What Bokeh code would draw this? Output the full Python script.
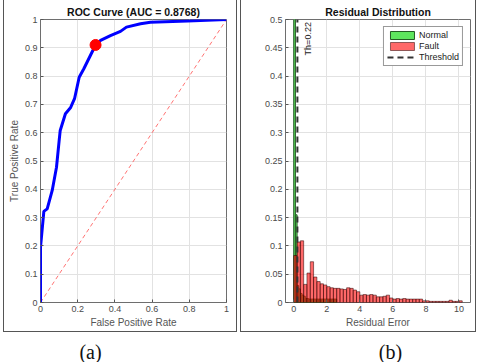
import math
from bokeh.plotting import figure
from bokeh.layouts import row, column
from bokeh.models import (FixedTicker, Range1d, Legend, LegendItem, Label, Spacer)
from bokeh.core.properties import value
from bokeh.embed import file_html
from bokeh.resources import INLINE

# ---------------- data ----------------
roc_fpr = [0.0, 0.0, 0.018, 0.036, 0.063, 0.086, 0.100, 0.106, 0.134, 0.161, 0.183,
           0.208, 0.233, 0.296, 0.323, 0.376, 0.430, 0.462, 0.538, 0.591, 0.790, 1.0]
roc_tpr = [0.0, 0.195, 0.322, 0.331, 0.396, 0.478, 0.570, 0.608, 0.667, 0.688, 0.720,
           0.796, 0.826, 0.910, 0.926, 0.943, 0.958, 0.973, 0.985, 0.990, 0.995, 1.0]
auc = 0.8768
opt_fpr = [0.296]
opt_tpr = [0.910]
chance = [0.0, 1.0]

threshold = 0.22
fault_bin_width = 0.2
fault_probs = [0.083, 0.107, 0.109, 0.032, 0.052, 0.072, 0.045, 0.037, 0.033, 0.031,
               0.028, 0.026, 0.025, 0.025, 0.024, 0.023, 0.026, 0.025, 0.022, 0.019,
               0.013, 0.014, 0.013, 0.014, 0.013, 0.010, 0.010, 0.011, 0.013, 0.008,
               0.006, 0.007, 0.006, 0.007, 0.006, 0.006, 0.006, 0.006, 0.006, 0.003,
               0.003, 0.002, 0.002, 0.002, 0.002, 0.002, 0.002, 0.004, 0.002, 0.002,
               0.003]
normal_bin_width = 0.1
normal_probs = [0.62, 0.155, 0.030, 0.024, 0.016, 0.013, 0.011, 0.007, 0.007, 0.006,
                0.006, 0.006, 0.006, 0.006, 0.006, 0.006, 0.006, 0.006, 0.006, 0.006,
                0.006, 0.006, 0.006, 0.006, 0.006, 0.006]

roc_xticks = [0, 0.2, 0.4, 0.6, 0.8, 1]
roc_yticks = [0, 0.1, 0.2, 0.3, 0.4, 0.5, 0.6, 0.7, 0.8, 0.9, 1]
res_xticks = [0, 2, 4, 6, 8, 10]
res_yticks = [0, 0.05, 0.1, 0.15, 0.2, 0.25, 0.3, 0.35, 0.4, 0.45, 0.5]
res_ymax = 0.5

captions = ["(a)", "(b)"]

FONT = "Liberation Sans"
TICK_C = "#4a4a4a"
PANEL_CSS = {"box-shadow": "inset 1px 0 0 0 #555555, inset -1px 0 0 0 #555555, "
                           "inset 0 -1px 0 0 #555555"}


def fmt(v):
    return ("%g" % v)


def style(p, xticks, yticks):
    p.outline_line_color = "#6e6e6e"
    p.outline_line_width = 1
    p.background_fill_color = "white"
    p.border_fill_color = None
    for ax, ticks in ((p.xaxis[0], xticks), (p.yaxis[0], yticks)):
        ax.ticker = FixedTicker(ticks=ticks)
        ax.major_label_overrides = {t: fmt(t) for t in ticks}
        ax.major_label_text_font = FONT
        ax.major_label_text_font_size = "9px"
        ax.major_label_text_color = TICK_C
        ax.axis_label_text_font = FONT
        ax.axis_label_text_font_size = "10px"
        ax.axis_label_text_font_style = "normal"
        ax.axis_label_text_color = "#555555"
        ax.axis_line_color = None
        ax.major_tick_in = 3
        ax.major_tick_out = 0
        ax.major_tick_line_color = "#555555"
        ax.minor_tick_line_color = None
        ax.major_label_standoff = 3
        ax.axis_label_standoff = 2
    p.xgrid.ticker = FixedTicker(ticks=xticks)
    p.ygrid.ticker = FixedTicker(ticks=yticks)
    p.grid.grid_line_color = "#e2e2e2"
    p.grid.grid_line_width = 1
    p.title.text_font = FONT
    p.title.text_font_size = "10.5px"
    p.title.text_font_style = "bold"
    p.title.text_color = "#111111"
    p.title.align = "center"
    p.title.standoff = 3
    p.title.offset = 0
    p.styles = PANEL_CSS


# ---------------- (a) ROC ----------------
pa = figure(width=234, height=332, output_backend="svg", toolbar_location=None,
            x_range=Range1d(0, 1), y_range=Range1d(0, 1),
            title="ROC Curve (AUC = %.4f)" % auc,
            x_axis_label="False Positive Rate", y_axis_label="True Positive Rate",
            min_border_left=37, min_border_right=11, min_border_top=19, min_border_bottom=30)
style(pa, roc_xticks, roc_yticks)
pa.line(chance, chance, line_color="#ff5a5a", line_width=1, line_dash="4 3", line_alpha=0.85)
pa.line(roc_fpr, roc_tpr, line_color="#0000ff", line_width=3)
pa.scatter(opt_fpr, opt_tpr, size=11, fill_color="#ff0000", line_color="#ff0000")

# ---------------- (b) residuals ----------------
pb = figure(width=236, height=332, output_backend="svg", toolbar_location=None,
            x_range=Range1d(-0.5, 10.7), y_range=Range1d(0, res_ymax),
            title="Residual Distribution", x_axis_label="Residual Error",
            min_border_left=45, min_border_right=6, min_border_top=19, min_border_bottom=30)
style(pb, res_xticks, res_yticks)

n_left = [i * normal_bin_width for i in range(len(normal_probs))]
n_right = [l + normal_bin_width for l in n_left]
f_left = [i * fault_bin_width for i in range(len(fault_probs))]
f_right = [l + fault_bin_width for l in f_left]

r_norm = pb.quad(left=n_left, right=n_right, bottom=0, top=normal_probs,
                 fill_color="#5ee65e", line_color="#245a24", line_width=1)
r_fault = pb.quad(left=f_left, right=f_right, bottom=0, top=fault_probs,
                  fill_color="#ff0c0c", fill_alpha=0.62, line_color="#2a0000",
                  line_alpha=0.75, line_width=0.7)
r_th = pb.line(x=[threshold, threshold], y=[0, res_ymax], line_color="#333333",
               line_width=2, line_dash="6 4")
pb.add_layout(Label(x=threshold + 0.63, y=0.466, text="Th=%.2f" % threshold,
                    angle=math.pi / 2, text_align="center", text_baseline="middle",
                    text_font=FONT, text_font_size="9px", text_color="#222222"))

legend = Legend(items=[LegendItem(label="Normal", renderers=[r_norm]),
                       LegendItem(label="Fault", renderers=[r_fault]),
                       LegendItem(label="Threshold", renderers=[r_th])],
                location="top_right", margin=7, padding=3, spacing=1,
                glyph_width=30, glyph_height=10, label_standoff=2,
                label_text_font=FONT, label_text_font_size="9px",
                label_text_color="#222222", label_height=10,
                border_line_color="#333333", border_line_width=1,
                background_fill_alpha=1)
pb.add_layout(legend)

# ---------------- captions ----------------
cap = figure(width=480, height=30, output_backend="svg", toolbar_location=None,
             x_range=Range1d(0, 480), y_range=Range1d(0, 30),
             min_border=0, outline_line_color=None)
cap.axis.visible = False
cap.grid.visible = False
cap.text(x=[90, 390], y=[11, 11], text=captions, text_font=value("Liberation Serif"),
         text_font_size="20px", text_align="center", text_baseline="middle",
         text_color="#111111")

layout = column(row(Spacer(width=3), pa, Spacer(width=3), pb, spacing=0), cap, spacing=0)
open("out.html", "w").write(file_html(layout, INLINE))
